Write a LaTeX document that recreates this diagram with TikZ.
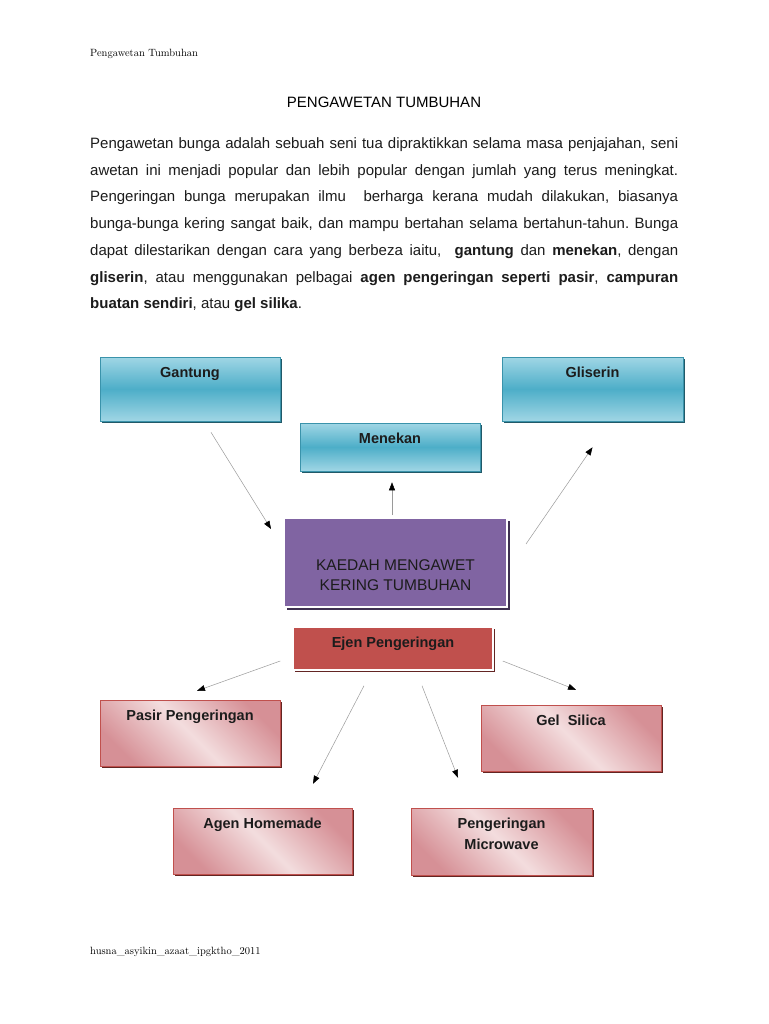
\documentclass[tikz,border=0pt]{standalone}
\usepackage{fontspec}
\setmainfont{Liberation Sans}
\newfontfamily\hdrfont{Latin Modern Roman}
\usetikzlibrary{arrows.meta,shadows}

\definecolor{cyantop}{HTML}{A0D6E5}
\definecolor{cyanmid}{HTML}{4DAEC8}
\definecolor{cyanline}{HTML}{3A93AB}
\definecolor{cyanshade}{HTML}{215968}
\definecolor{plum}{HTML}{8064A2}
\definecolor{plumshade}{HTML}{3F3151}
\definecolor{brick}{HTML}{C0504D}
\definecolor{brickshade}{HTML}{632523}
\definecolor{rosedark}{HTML}{D69096}
\definecolor{roselight}{HTML}{F3DDDE}
\definecolor{arrgray}{HTML}{9A9A9A}
\definecolor{ink}{HTML}{1C1C1C}

\newcommand{\boxfont}{\fontsize{14.5}{21}\selectfont\bfseries}

\begin{document}
\begin{tikzpicture}[x=1pt,y=-1pt,
  cyanbox/.style={draw=cyanline, line width=0.6pt, top color=cyantop, bottom color=cyantop,
    middle color=cyanmid, general shadow={fill=cyanshade, shadow xshift=2pt, shadow yshift=-2pt},
    minimum width=180pt, inner ysep=9pt, text height=11pt, font=\boxfont, text=ink},
  pinkbox/.style={draw=brick, line width=0.4pt, top color=rosedark, bottom color=rosedark,
    middle color=roselight, shading angle=-45,
    general shadow={fill=brickshade, shadow xshift=2pt, shadow yshift=-2pt},
    minimum width=180pt, inner ysep=9pt, text height=11pt, font=\boxfont, text=ink, align=center},
  arr/.style={draw=arrgray, line width=0.5pt, -{Triangle[length=8pt,width=6pt,color=black,fill=black]}}]

\fill[white] (0,0) rectangle (768,1024);
\useasboundingbox (0,0) rectangle (768,1024);

% header, title and text
\node[anchor=base west, inner sep=0, font=\hdrfont\fontsize{10.5}{12}\selectfont] (hdr) at (90,57) {Pengawetan Tumbuhan};
\node[anchor=base, inner sep=0, font=\fontsize{15}{18}\selectfont] (title) at (384,107.5) {PENGAWETAN TUMBUHAN};
\node[anchor=north west, inner sep=0, text width=588pt, align=justify,
  font=\fontsize{15}{26.7}\selectfont, text=ink] (intro) at (90,137.5)
{\frenchspacing\hyphenpenalty=10000\exhyphenpenalty=10000\tolerance=10000
Pengawetan bunga adalah sebuah seni tua dipraktikkan selama masa penjajahan, seni\linebreak
awetan ini menjadi popular dan lebih popular dengan jumlah yang terus meningkat.\linebreak
Pengeringan bunga merupakan ilmu\ \ berharga kerana mudah dilakukan, biasanya\linebreak
bunga-bunga kering sangat baik, dan mampu bertahan selama bertahun-tahun. Bunga\linebreak
dapat dilestarikan dengan cara yang berbeza iaitu,\ \ \textbf{gantung} dan \textbf{menekan}, dengan\linebreak
\textbf{gliserin}, atau menggunakan pelbagai \textbf{agen pengeringan seperti pasir}, \textbf{campuran}\linebreak
\textbf{buatan sendiri}, atau \textbf{gel silika}.};

% top boxes
\node[cyanbox, text depth=35pt] (gantung) at (190,389) {Gantung};
\node[cyanbox, text depth=35pt, minimum width=181pt] (gliserin) at (592.5,389) {Gliserin};
\node[cyanbox, text depth=19pt] (menekan) at (390,447) {Menekan};

% centre
\node[draw=white, line width=2pt, fill=plum, minimum width=223pt, inner ysep=9pt,
  text height=63pt, text depth=8pt, align=center, text=ink, font=\fontsize{15.5}{19.5}\selectfont,
  general shadow={fill=plumshade, shadow xshift=2.5pt, shadow yshift=-2.5pt}] (kaedah) at (395.5,562.5)
  {KAEDAH MENGAWET\\KERING TUMBUHAN};
\node[draw=white, line width=1.5pt, fill=brick, minimum width=200pt, inner ysep=9pt,
  text height=11pt, text depth=14pt, font=\boxfont, text=ink,
  general shadow={fill=brickshade, shadow xshift=2pt, shadow yshift=-2pt}] (ejen) at (393,648.5)
  {Ejen Pengeringan};

% bottom boxes
\node[pinkbox, text depth=37pt] (pasir) at (190,733) {Pasir Pengeringan};
\node[pinkbox, text depth=37pt] (gel) at (571,738) {Gel\ \ Silica};
\node[pinkbox, text depth=37pt, minimum width=179pt] (agen) at (262.5,841) {Agen Homemade};
\node[pinkbox, text height=32pt, text depth=17pt, minimum width=181pt] (micro) at (501.5,841.5) {Pengeringan\\Microwave};

% arrows
\draw [arr] ([shift={(21,11)}]gantung.south) -- ([shift={(-12,12)}]kaedah.north west);
\draw [arr] ([shift={(-3.5,-2)}]kaedah.north) -- ([shift={(2,11)}]menekan.south);
\draw [arr] ([shift={(18,27)}]kaedah.north east) -- ([shift={(0,26)}]gliserin.south);
\draw [arr] ([shift={(-12,12.5)}]ejen.west) -- ([shift={(7,-9)}]pasir.north);
\draw [arr] ([shift={(-29,15)}]ejen.south) -- ([shift={(50.5,-24)}]agen.north);
\draw [arr] ([shift={(29,15)}]ejen.south) -- ([shift={(-43.5,-30)}]micro.north);
\draw [arr] ([shift={(9,12.5)}]ejen.east) -- ([shift={(5,-15)}]gel.north);

% footer
\node[anchor=base west, inner sep=0, font=\hdrfont\fontsize{10.5}{12}\selectfont] (ftr) at (90,954) {husna\_asyikin\_azaat\_ipgktho\_2011};
\end{tikzpicture}
\end{document}
